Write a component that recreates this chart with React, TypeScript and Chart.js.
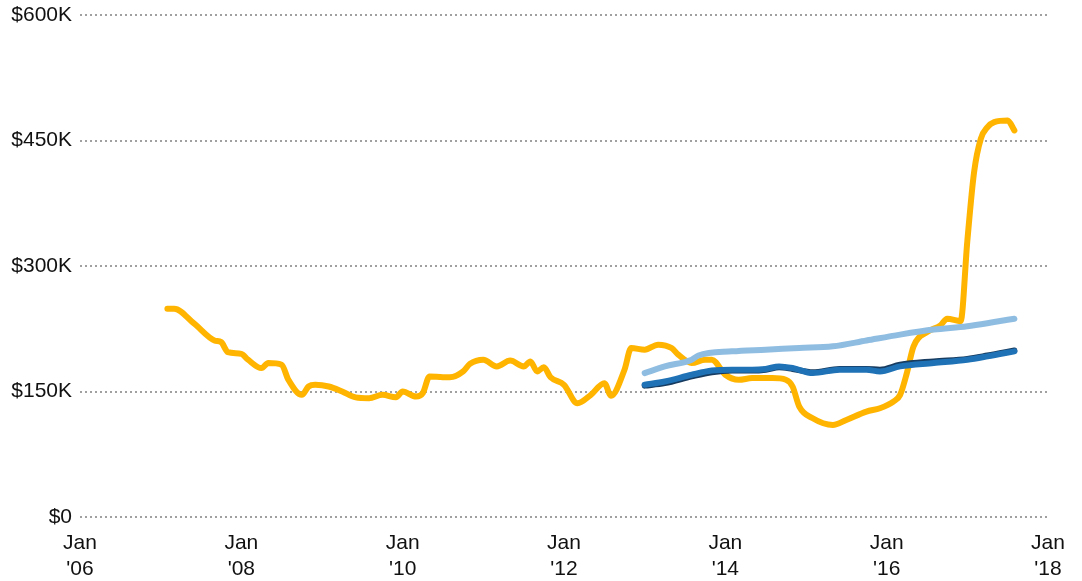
import React, { useEffect, useRef } from "react";
import { Chart, registerables } from "chart.js";

Chart.register(...registerables);

// Month index counted from Jan 2006 (0 = Jan '06)
const yellowMonths = [13, 14, 17, 20, 21, 22, 24, 25, 27, 28, 30, 31, 33, 34, 35, 37, 39, 41, 43, 45, 47, 48, 50, 51, 52, 54, 55, 57, 58, 60, 62, 64, 66, 67, 68, 69, 70, 72, 74, 76, 78, 79, 81, 82, 84, 86, 88, 89, 91, 93, 94, 96, 98, 100, 103, 105, 106, 107, 109, 112, 114, 117, 119, 121, 122, 123, 124, 126, 128, 129, 131, 132, 133, 134, 135, 136, 138, 139];
const yellowValues = [249, 249, 231, 211, 209, 197, 195, 188, 178, 184, 182, 164, 146, 156, 158, 156, 150, 143, 142, 146, 143, 150, 144, 148, 168, 167, 167, 174, 183, 188, 180, 187, 180, 186, 174, 179, 167, 158, 136, 146, 160, 145, 176, 202, 200, 206, 202, 194, 184, 188, 188, 170, 164, 166, 166, 164, 156, 132, 118, 110, 116, 126, 130, 138, 146, 172, 204, 221, 229, 237, 234, 330, 412, 452, 466, 472, 474, 462];

const lightBlueMonths = [84, 87, 91, 92, 97, 102, 107, 112, 117, 122, 127, 132, 136, 139];
const lightBlueValues = [172, 180, 188, 193, 198, 200, 202, 204, 211, 218, 224, 228, 233, 237];

const blueMonths = [84, 87, 91, 94, 97, 100, 102, 104, 106, 109, 113, 117, 119, 122, 127, 132, 135, 139];
const blueValues = [158, 162, 170, 175, 176, 176, 177, 180, 178, 172, 176, 176, 174, 180, 184, 188, 192, 198];

const navyMonths = [84, 87, 91, 94, 97, 100, 102, 104, 106, 109, 113, 117, 119, 122, 127, 132, 135, 139];
const navyValues = [157, 160, 168, 173, 175, 175, 176, 179, 177, 173, 177, 177, 176, 182, 186, 189, 193, 199];

const yTicks = [0, 150, 300, 450, 600];
const xTickYears = ["'06", "'08", "'10", "'12", "'14", "'16", "'18"];

const toPoints = (months: number[], values: number[]) =>
  months.map((m, i) => ({ x: m, y: values[i] * 1000 }));

export default function App() {
  const ref = useRef<HTMLCanvasElement | null>(null);

  useEffect(() => {
    document.body.style.margin = "0";
    if (!ref.current) return;
    const font = { family: "'Liberation Sans', Arial, sans-serif", size: 21 };
    const common = {
      pointRadius: 0,
      borderWidth: 6,
      borderCapStyle: "round" as const,
      borderJoinStyle: "round" as const,
      cubicInterpolationMode: "monotone" as const,
      fill: false,
    };
    const chart = new Chart(ref.current, {
      type: "line",
      data: {
        datasets: [
          { ...common, label: "Blue", data: toPoints(blueMonths, blueValues), borderColor: "#1f72b6" },
          { ...common, label: "Navy", data: toPoints(navyMonths, navyValues), borderColor: "#173c60" },
          { ...common, label: "Light blue", data: toPoints(lightBlueMonths, lightBlueValues), borderColor: "#8fbde2" },
          { ...common, label: "Yellow", data: toPoints(yellowMonths, yellowValues), borderColor: "#ffb400" },
        ],
      },
      options: {
        animation: false,
        responsive: true,
        maintainAspectRatio: false,
        layout: { padding: { left: 0, right: 34, top: 15, bottom: 0 } },
        plugins: { legend: { display: false }, tooltip: { enabled: false } },
        scales: {
          x: {
            type: "linear",
            min: 0,
            max: 144,
            afterFit: (s: any) => {
              s.height = 64;
            },
            afterBuildTicks: (s: any) => {
              s.ticks = xTickYears.map((_, i) => ({ value: i * 24 }));
            },
            grid: { display: false, drawTicks: false },
            border: { display: false },
            ticks: {
              color: "#111",
              font,
              padding: 14,
              maxRotation: 0,
              autoSkip: false,
              callback: (v: any) => ["Jan", xTickYears[Math.round(Number(v) / 24)]],
            },
          },
          y: {
            min: 0,
            max: 600000,
            afterFit: (s: any) => {
              s.width = 80;
              s.paddingTop = 0;
              s.paddingBottom = 0;
            },
            afterBuildTicks: (s: any) => {
              s.ticks = yTicks.map((v) => ({ value: v * 1000 }));
            },
            grid: { color: "#a0a0a0", lineWidth: 2, drawTicks: false },
            border: { display: false, dash: [2, 3] },
            ticks: {
              color: "#111",
              font,
              padding: 8,
              callback: (v: any) => (Number(v) === 0 ? "$0" : "$" + Number(v) / 1000 + "K"),
            },
          },
        },
      },
    });
    return () => chart.destroy();
  }, []);

  return (
    <div style={{ position: "absolute", left: 0, top: 0, width: 1082, height: 581 }}>
      <canvas ref={ref} />
    </div>
  );
}
